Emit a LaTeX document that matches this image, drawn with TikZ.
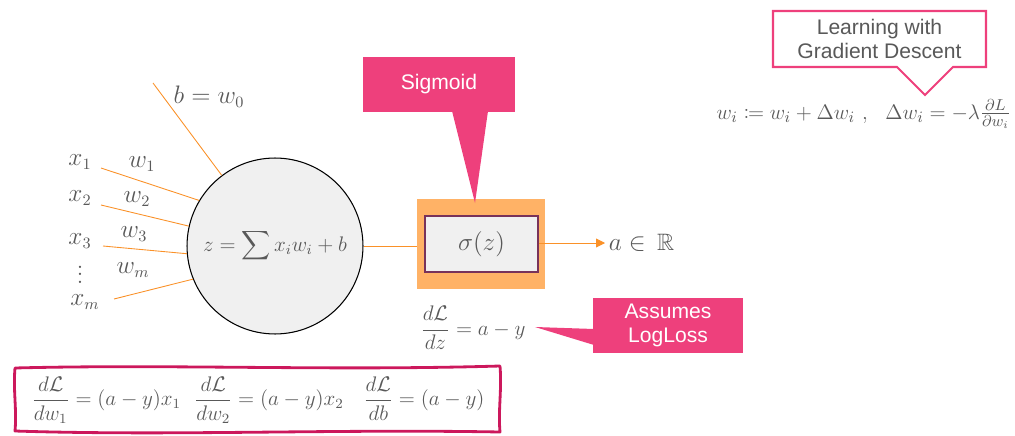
\documentclass[tikz,border=0pt]{standalone}
\usepackage{amsmath,amssymb,mathtools}
\usepackage{fontspec}
\setsansfont{Liberation Sans}
\usetikzlibrary{arrows.meta}

\definecolor{txtgray}{RGB}{89,89,89}
\definecolor{calloutpink}{RGB}{238,64,124}
\definecolor{wireorange}{RGB}{250,145,40}
\definecolor{boxorange}{RGB}{255,178,102}
\definecolor{cellgray}{RGB}{240,240,240}
\definecolor{cellborder}{RGB}{120,50,90}
\definecolor{framered}{RGB}{204,24,92}

\tikzset{
  mathlbl/.style={text=txtgray, font=\fontsize{13.5}{16}\selectfont},
  wire/.style={draw=wireorange, line width=0.5pt},
  callout/.style={fill=calloutpink, draw=none},
  callouttext/.style={text=white, font=\sffamily\fontsize{12}{14}\selectfont, align=center},
}

\begin{document}
\begin{tikzpicture}[x=0.02cm, y=-0.02cm]
    \useasboundingbox (0,0) rectangle (1015,436);

    % Neuron
    \node[circle, draw=black, line width=0.6pt, fill=cellgray, inner sep=0pt,
          minimum size=3.52cm, mathlbl, font=\fontsize{11.5}{14}\selectfont] (neuron) at (275,246)
          {$z = \displaystyle\sum x_i w_i + b$};

    % Inputs
    \coordinate (bs) at (153,83);
    \coordinate (x1s) at (101,168);
    \coordinate (x2s) at (101,205);
    \coordinate (x3s) at (103,246);
    \coordinate (xms) at (114,299);
    \draw[wire] (bs) -- (neuron.127.6);
    \draw[wire] (x1s) -- (neuron.149.8);
    \draw[wire] (x2s) -- (neuron.167.7);
    \draw[wire] (x3s) -- (neuron.185.3);
    \draw[wire] (xms) -- (neuron.202.3);

    \node[mathlbl] (blbl) at (209,97) {$b = w_0$};
    \node[mathlbl] (x1) at (80,162) {$x_1$};
    \node[mathlbl] (x2) at (80,198) {$x_2$};
    \node[mathlbl] (x3) at (80,241) {$x_3$};
    \node[mathlbl, inner sep=0pt] (xdots) at (80,283) {\smash{$\vdots$}};
    \node[mathlbl] (xm) at (85,302) {$x_m$};
    \node[mathlbl] (w1) at (142,164) {$w_1$};
    \node[mathlbl] (w2) at (137,199) {$w_2$};
    \node[mathlbl] (w3) at (134,234) {$w_3$};
    \node[mathlbl] (wm) at (133,270) {$w_m$};

    % Activation
    \node[fill=boxorange, minimum width=2.56cm, minimum height=1.8cm] (sigout) at (481,244) {};
    \node[draw=cellborder, fill=cellgray, line width=0.6pt, minimum width=2.26cm,
          minimum height=1.12cm, mathlbl] (sigin) at (481.5,244) {$\sigma(z)$};
    \draw[wire] (neuron.east) -- (sigout.west |- neuron.east);
    \node[mathlbl, anchor=west, inner sep=2pt] (aout) at (605,243) {$a \in \,\mathbb{R}$};
    \draw[wire, -{Triangle[length=5pt,width=5pt]}] (sigin.east |- aout.west) -- (aout.west);

    % Sigmoid callout
    \node[callout, callouttext, minimum width=3.04cm, minimum height=1.1cm] (sigcall) at (439,84.5) {Sigmoid};
    \fill[calloutpink] (452,111) -- (475,203) -- (488,111) -- cycle;

    % Loss derivative
    \node[mathlbl, font=\fontsize{12.5}{15}\selectfont] (dldz) at (473,328) {$\dfrac{d\mathcal{L}}{dz} = a - y$};
    \node[callout, callouttext, minimum width=3.0cm, minimum height=1.1cm] (losscall) at (668,325.5) {Assumes\\LogLoss};
    \fill[calloutpink] (535,327) -- (594,329) -- (594,345) -- cycle;

    % Gradient descent
    \draw[calloutpink, line width=1.2pt, fill=white, line join=miter]
        (773,11) -- (986,11) -- (986,67) -- (953,67) -- (925,95) -- (897,67) -- (773,67) -- cycle;
    \node[text=txtgray, font=\sffamily\fontsize{12}{14}\selectfont, align=center] (learn) at (879.5,39)
        {Learning with\\Gradient Descent};
    \node[mathlbl, font=\fontsize{12.3}{14}\selectfont, anchor=east, inner sep=1pt] (update) at (1013,114)
        {$w_i \coloneqq w_i + \Delta w_i\ ,\ \ \Delta w_i = -\lambda \tfrac{\partial L}{\partial w_i}$};

    % Weight gradients
    \draw[framered, line width=1.6pt, line join=round]
        (15,368) .. controls (170,364) and (330,371) .. (500,366)
        .. controls (502,390) and (498,410) .. (500,432)
        .. controls (330,429) and (170,436) .. (15,431)
        .. controls (17,410) and (13,390) .. cycle;
    \node[mathlbl, font=\fontsize{11.6}{14}\selectfont] (grads) at (258,400)
        {$\dfrac{d\mathcal{L}}{dw_1} = (a-y)x_1\ \ \dfrac{d\mathcal{L}}{dw_2} = (a-y)x_2\ \ \ \dfrac{d\mathcal{L}}{db} = (a-y)$};

\end{tikzpicture}
\end{document}
